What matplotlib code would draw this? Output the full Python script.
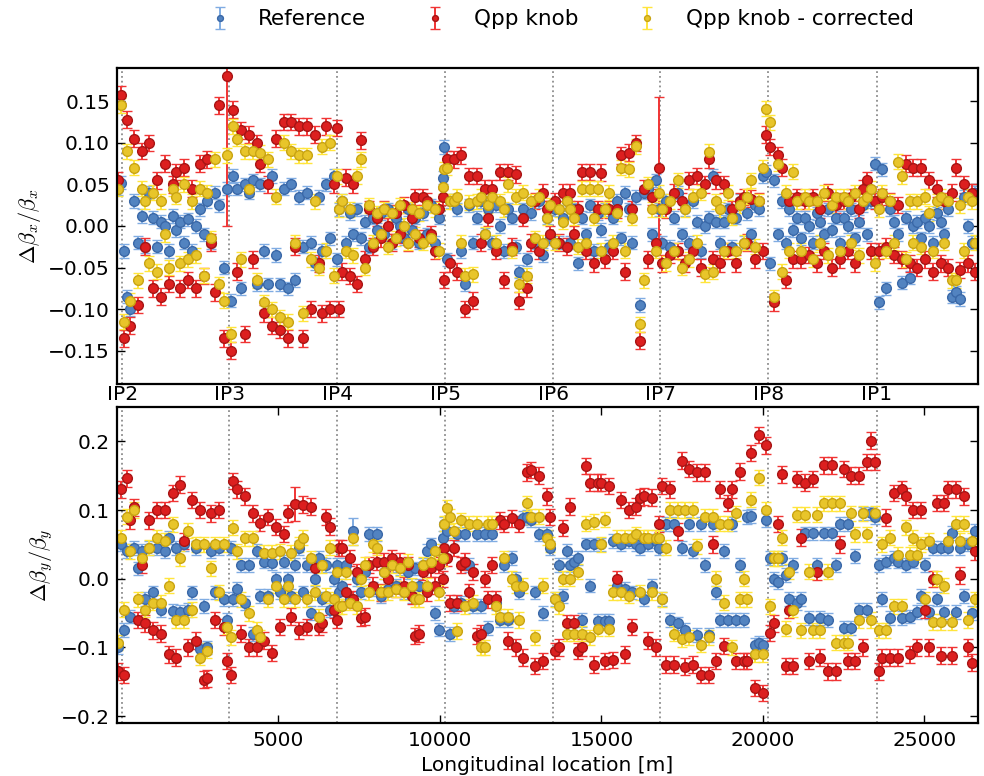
import matplotlib
matplotlib.use("Agg")
import matplotlib.pyplot as plt
import numpy as np

# ---------------- data ----------------
IP_POS = [170, 3480, 6825, 10170, 13500, 16825, 20170, 23520]
IP_NAMES = ["IP2", "IP3", "IP4", "IP5", "IP6", "IP7", "IP8", "IP1"]
BOTTOM_TICKS = [5000, 10000, 15000, 20000, 25000]

S_BPM = [
    40, 120, 210, 300, 400, 520, 640, 760, 880, 1000,
    1120, 1240, 1360, 1480, 1600, 1720, 1840, 1960, 2080, 2200,
    2320, 2440, 2560, 2680, 2800, 2920, 3040, 3160, 3300, 3420,
    3520, 3600, 3720, 3840, 3960, 4080, 4200, 4320, 4440, 4560,
    4680, 4800, 4920, 5040, 5160, 5280, 5400, 5520, 5640, 5760,
    5880, 6000, 6120, 6240, 6360, 6480, 6600, 6720, 6800, 6880,
    6960, 7080, 7200, 7320, 7440, 7560, 7680, 7800, 7920, 8040,
    8160, 8280, 8400, 8520, 8640, 8760, 8880, 9000, 9120, 9240,
    9360, 9480, 9600, 9720, 9840, 9960, 10080, 10140, 10210, 10300,
    10420, 10540, 10660, 10780, 10900, 11020, 11140, 11260, 11380, 11500,
    11620, 11740, 11860, 11980, 12100, 12220, 12340, 12460, 12580, 12700,
    12820, 12940, 13060, 13180, 13300, 13420, 13560, 13680, 13800, 13920,
    14040, 14160, 14280, 14400, 14520, 14640, 14760, 14880, 15000, 15120,
    15240, 15360, 15480, 15600, 15720, 15840, 15960, 16080, 16200, 16320,
    16440, 16560, 16680, 16780, 16880, 17000, 17120, 17240, 17360, 17480,
    17600, 17720, 17840, 17960, 18080, 18200, 18320, 18440, 18560, 18680,
    18800, 18920, 19040, 19160, 19280, 19400, 19520, 19640, 19760, 19880,
    20000, 20100, 20220, 20340, 20460, 20580, 20700, 20820, 20940, 21060,
    21180, 21300, 21420, 21540, 21660, 21780, 21900, 22020, 22140, 22260,
    22380, 22500, 22620, 22740, 22860, 22980, 23100, 23220, 23340, 23460,
    23580, 23700, 23820, 23940, 24060, 24180, 24300, 24420, 24540, 24660,
    24780, 24900, 25020, 25140, 25260, 25380, 25500, 25620, 25740, 25860,
    25980, 26100, 26220, 26340, 26460, 26580,
]

# horizontal beta-beating
BBX_REF = [
    0.045, 0.052, -0.03, -0.085, -0.1, 0.03, -0.02, 0.012, -0.025, 0.04,
    0.01, -0.025, 0.005, 0.0, -0.03, 0.012, -0.005, 0.005, -0.02, 0.008,
    -0.03, 0.0, 0.02, -0.01, 0.03, -0.02, 0.04, 0.025, -0.05, 0.045,
    -0.09, 0.06, 0.045, -0.075, 0.05, 0.04, 0.055, -0.07, 0.05, -0.03,
    -0.07, 0.06, -0.035, -0.07, 0.045, -0.075, 0.05, -0.065, 0.035, -0.025,
    0.04, -0.02, -0.045, 0.035, -0.03, 0.05, -0.015, 0.06, -0.04, 0.02,
    0.03, -0.02, 0.015, -0.01, 0.02, -0.015, 0.005, -0.025, 0.01, -0.005,
    0.015, -0.01, 0.02, -0.02, 0.01, 0.0, -0.015, 0.02, -0.005, 0.01,
    -0.02, 0.015, -0.01, 0.025, -0.02, 0.01, 0.058, 0.095, -0.04, 0.03,
    0.03, 0.02, -0.03, -0.07, 0.025, -0.02, 0.01, 0.03, -0.01, 0.02,
    -0.02, 0.025, 0.0, -0.03, 0.02, 0.01, -0.025, -0.055, 0.02, -0.04,
    0.015, -0.02, 0.03, -0.035, 0.01, -0.015, 0.02, -0.02, 0.01, 0.03,
    -0.02, 0.02, -0.045, 0.01, -0.01, 0.025, -0.03, 0.015, -0.005, 0.02,
    -0.025, 0.01, 0.03, -0.015, 0.04, 0.02, -0.02, 0.035, -0.095, 0.04,
    0.045, -0.01, 0.055, 0.02, -0.02, 0.03, -0.025, 0.01, 0.04, -0.01,
    0.02, -0.02, 0.03, 0.005, -0.03, 0.0, 0.01, 0.06, 0.005, -0.02,
    0.005, 0.02, -0.025, 0.01, 0.03, -0.02, 0.015, -0.01, 0.025, 0.02,
    0.06, 0.065, -0.045, 0.055, -0.01, 0.03, -0.02, 0.02, -0.005, 0.01,
    -0.015, 0.01, 0.0, -0.02, 0.015, 0.005, -0.01, 0.02, -0.005, 0.01,
    -0.02, 0.01, 0.0, 0.02, -0.015, 0.005, 0.025, -0.01, 0.03, 0.075,
    -0.092, 0.068, -0.075, 0.02, 0.005, -0.01, -0.068, 0.01, -0.062, 0.0,
    0.005, -0.015, 0.01, 0.0, -0.02, 0.015, 0.005, -0.01, 0.02, -0.085,
    -0.08, -0.088, 0.035, 0.0, -0.02, 0.04,
]
BBX_QPP = [
    0.055, 0.158, -0.135, 0.128, -0.12, 0.105, -0.095, 0.09, -0.025, 0.1,
    -0.075, 0.055, -0.085, 0.075, -0.07, 0.05, 0.065, -0.075, 0.07, -0.065,
    0.045, -0.075, 0.075, -0.06, 0.08, -0.02, -0.08, 0.145, -0.135, 0.18,
    -0.15, 0.14, -0.055, 0.115, -0.13, 0.11, -0.04, 0.1, 0.075, -0.105,
    0.05, -0.12, 0.105, -0.125, 0.125, -0.135, 0.125, -0.025, 0.12, -0.135,
    0.12, -0.1, 0.11, -0.045, -0.105, 0.12, -0.1, 0.05, 0.118, -0.1,
    -0.055, 0.058, -0.06, 0.05, -0.07, 0.103, -0.04, 0.02, -0.025, 0.01,
    -0.015, 0.02, 0.0, -0.02, 0.015, -0.01, 0.025, -0.02, 0.01, 0.035,
    -0.015, 0.035, 0.03, -0.01, -0.03, 0.02, 0.035, -0.065, 0.08, -0.045,
    0.08, -0.055, 0.085, -0.1, 0.06, -0.09, 0.06, -0.02, 0.045, 0.01,
    0.045, -0.03, 0.065, -0.065, 0.065, -0.025, 0.062, -0.09, 0.01, -0.075,
    -0.02, 0.03, -0.03, 0.04, 0.02, -0.01, 0.03, -0.02, 0.04, -0.025,
    0.04, -0.01, 0.02, 0.065, -0.03, 0.065, -0.045, 0.02, 0.064, -0.04,
    0.02, -0.03, 0.02, 0.085, -0.055, 0.088, 0.02, 0.1, -0.138, 0.045,
    -0.04, 0.035, -0.02, 0.07, -0.045, 0.02, -0.035, 0.04, -0.03, 0.03,
    -0.045, 0.055, -0.03, 0.06, -0.05, 0.05, 0.08, -0.04, 0.055, -0.045,
    0.05, -0.03, 0.02, -0.045, 0.03, 0.035, -0.02, 0.033, -0.04, 0.03,
    -0.03, 0.11, 0.095, -0.092, 0.085, 0.07, -0.065, 0.03, -0.04, 0.035,
    -0.04, 0.03, -0.035, 0.035, -0.045, 0.02, -0.03, 0.04, -0.05, 0.025,
    -0.04, 0.03, -0.03, 0.035, -0.045, 0.02, 0.045, 0.055, -0.03, 0.03,
    -0.03, 0.035, -0.025, 0.03, -0.035, 0.025, -0.04, 0.075, -0.045, 0.07,
    -0.05, 0.07, -0.04, 0.055, -0.055, 0.045, -0.045, 0.03, -0.05, 0.04,
    0.07, -0.053, 0.05, -0.045, 0.04, -0.055,
]
BBX_COR = [
    0.045, 0.145, -0.115, 0.09, -0.09, 0.07, -0.065, 0.045, 0.03, -0.045,
    0.04, -0.055, 0.03, -0.01, -0.05, 0.045, 0.035, -0.045, 0.05, -0.04,
    0.03, -0.035, 0.045, -0.06, 0.04, -0.015, 0.08, -0.07, -0.09, 0.085,
    -0.13, 0.12, 0.105, -0.04, 0.09, 0.045, 0.09, -0.065, 0.088, -0.092,
    0.08, -0.1, 0.035, -0.11, 0.1, -0.115, 0.09, -0.02, 0.085, -0.105,
    0.085, -0.04, 0.03, -0.05, 0.095, -0.03, 0.1, -0.06, 0.06, 0.02,
    0.03, -0.03, 0.02, -0.035, 0.06, 0.08, -0.05, 0.025, -0.02, 0.015,
    -0.01, 0.02, -0.025, 0.015, -0.015, 0.025, 0.0, -0.02, 0.02, -0.01,
    0.015, -0.02, 0.025, -0.015, 0.02, -0.03, 0.047, 0.068, 0.07, 0.03,
    0.03, 0.035, -0.02, -0.06, 0.028, -0.058, 0.03, 0.035, -0.01, 0.025,
    0.035, -0.02, 0.03, 0.02, 0.05, -0.03, 0.035, -0.07, 0.04, -0.06,
    0.03, -0.015, 0.035, -0.02, 0.01, 0.025, -0.02, 0.02, 0.005, 0.03,
    0.02, 0.01, -0.025, 0.045, -0.02, 0.045, 0.01, 0.045, -0.03, 0.02,
    0.04, -0.02, 0.015, 0.07, -0.03, 0.068, 0.01, 0.096, -0.118, -0.065,
    0.05, 0.02, -0.03, 0.04, 0.02, -0.045, 0.03, -0.03, 0.055, -0.05,
    0.02, -0.04, 0.035, -0.02, 0.04, -0.058, 0.089, -0.055, 0.03, 0.02,
    -0.03, 0.04, 0.01, -0.03, 0.025, -0.02, 0.035, 0.055, -0.025, 0.03,
    0.07, 0.141, 0.125, -0.086, 0.075, -0.055, 0.04, -0.03, 0.065, 0.03,
    -0.03, 0.035, 0.03, -0.04, 0.03, -0.02, 0.04, -0.035, 0.025, 0.035,
    -0.03, 0.035, 0.03, -0.02, 0.04, -0.035, 0.03, 0.035, 0.045, -0.045,
    0.02, 0.04, -0.03, 0.03, -0.02, 0.077, 0.06, -0.04, 0.03, -0.02,
    0.03, -0.025, 0.035, 0.015, -0.03, 0.03, 0.035, -0.02, 0.03, -0.065,
    -0.065, 0.025, -0.03, 0.035, 0.03, -0.02,
]

# vertical beta-beating
BBY_REF = [
    -0.1, 0.05, -0.075, 0.04, -0.055, 0.045, 0.015, 0.04, -0.03, 0.045,
    -0.02, 0.045, -0.045, 0.04, 0.06, -0.047, 0.045, -0.048, 0.05, -0.045,
    -0.02, 0.045, -0.103, -0.04, -0.1, 0.04, -0.02, 0.045, -0.03, -0.06,
    0.045, -0.03, -0.015, 0.02, -0.035, 0.02, -0.08, 0.04, -0.025, 0.025,
    -0.025, 0.023, 0.0, -0.02, 0.025, 0.0, -0.025, 0.02, 0.045, -0.02,
    0.02, -0.05, 0.0, 0.03, -0.03, 0.02, -0.045, 0.0, 0.02, -0.02,
    -0.01, 0.02, -0.03, 0.069, 0.0, -0.02, 0.01, 0.065, -0.015, 0.065,
    -0.025, 0.01, -0.015, 0.02, -0.01, 0.015, -0.02, 0.01, -0.025, 0.015,
    -0.01, 0.02, 0.04, 0.05, -0.05, -0.074, 0.06, 0.08, 0.07, -0.08,
    -0.04, 0.065, -0.035, 0.065, 0.02, -0.04, 0.065, -0.04, 0.065, -0.072,
    0.065, -0.035, -0.06, 0.02, -0.06, 0.03, 0.0, -0.02, 0.088, 0.09,
    0.085, -0.02, 0.065, -0.05, 0.065, 0.045, -0.03, 0.02, -0.025, 0.04,
    0.02, 0.025, 0.03, -0.06, 0.05, -0.01, 0.05, -0.062, 0.05, -0.062,
    -0.062, 0.055, -0.01, 0.05, -0.015, 0.055, -0.02, 0.05, 0.045, -0.03,
    0.05, -0.01, 0.055, 0.045, -0.03, 0.08, -0.06, 0.08, -0.065, 0.045,
    -0.074, 0.08, 0.04, -0.082, 0.08, 0.02, -0.082, 0.08, -0.02, -0.06,
    0.04, -0.06, 0.08, -0.06, 0.02, -0.06, 0.09, 0.091, -0.096, -0.094,
    -0.096, 0.085, 0.03, 0.0, -0.005, 0.03, 0.005, -0.03, 0.02, -0.035,
    -0.03, 0.066, -0.057, 0.066, 0.02, -0.057, 0.066, -0.06, 0.066, 0.02,
    0.08, -0.072, 0.08, -0.072, 0.033, -0.045, 0.095, -0.045, 0.095, 0.09,
    0.02, -0.03, 0.025, -0.057, 0.03, 0.025, -0.057, 0.02, -0.055, 0.025,
    -0.048, -0.025, 0.02, -0.048, 0.045, -0.03, 0.045, -0.048, 0.045, 0.067,
    -0.048, 0.045, -0.025, 0.05, -0.05, 0.07,
]
BBY_QPP = [
    -0.135, 0.13, -0.14, 0.146, 0.085, 0.104, -0.06, 0.02, -0.065, 0.085,
    -0.075, 0.1, -0.08, 0.1, -0.11, 0.125, -0.115, 0.137, 0.055, -0.1,
    0.115, -0.09, 0.1, -0.147, -0.145, 0.095, -0.06, 0.1, -0.07, -0.12,
    -0.14, 0.142, 0.13, -0.08, 0.12, -0.1, 0.095, -0.1, 0.081, -0.09,
    0.09, -0.108, 0.075, -0.07, 0.065, 0.095, -0.055, 0.109, -0.075, 0.108,
    -0.07, 0.105, 0.015, -0.07, -0.065, 0.09, 0.076, -0.045, -0.06, 0.045,
    0.045, -0.02, 0.03, -0.03, 0.01, -0.057, -0.055, 0.02, -0.01, 0.025,
    -0.02, 0.025, 0.0, 0.03, -0.015, 0.025, -0.01, 0.02, -0.025, -0.083,
    -0.08, 0.01, -0.02, 0.015, -0.01, 0.02, 0.0, 0.045, 0.03, -0.035,
    0.045, -0.035, 0.02, 0.025, -0.02, 0.01, -0.083, -0.08, 0.0, -0.03,
    0.02, -0.03, 0.085, 0.08, -0.09, 0.088, -0.1, 0.08, -0.115, 0.155,
    0.158, -0.127, 0.15, -0.12, 0.12, 0.09, -0.105, -0.1, 0.074, -0.065,
    0.105, -0.065, -0.105, -0.1, 0.164, 0.14, -0.125, 0.14, 0.14, -0.12,
    0.135, -0.118, 0.0, 0.115, -0.11, 0.1, -0.07, 0.105, 0.118, 0.12,
    -0.09, 0.118, -0.1, 0.08, 0.135, -0.125, 0.13, -0.125, 0.069, 0.172,
    -0.128, 0.16, -0.125, 0.155, -0.14, 0.155, -0.14, 0.05, -0.12, 0.13,
    -0.098, 0.11, 0.13, -0.12, 0.156, -0.12, -0.12, 0.183, -0.159, 0.209,
    -0.166, 0.194, -0.079, -0.065, 0.08, 0.152, -0.127, -0.045, -0.127, 0.145,
    0.06, 0.14, -0.12, 0.145, 0.01, -0.115, 0.165, -0.135, 0.165, -0.135,
    0.05, 0.16, -0.12, 0.15, -0.12, 0.15, -0.1, 0.17, 0.201, 0.17,
    -0.135, -0.115, 0.089, -0.115, 0.125, -0.115, 0.13, 0.12, -0.11, 0.1,
    -0.1, 0.1, -0.045, -0.1, 0.0, 0.11, -0.112, 0.11, 0.13, -0.112,
    0.13, 0.005, 0.12, -0.1, -0.122, 0.04,
]
BBY_COR = [
    -0.093, 0.06, -0.045, 0.09, 0.04, 0.1, -0.03, 0.03, -0.045, 0.045,
    -0.035, 0.06, -0.035, 0.055, -0.01, 0.079, -0.06, 0.03, -0.06, 0.07,
    -0.045, 0.05, -0.115, 0.05, -0.105, 0.015, 0.05, -0.02, 0.05, -0.07,
    -0.085, 0.074, 0.04, -0.03, 0.059, -0.05, 0.059, -0.074, -0.085, 0.038,
    -0.03, 0.038, -0.01, 0.04, -0.03, -0.01, 0.038, -0.03, 0.05, 0.06,
    -0.03, 0.03, -0.02, -0.055, 0.02, -0.025, 0.045, -0.03, 0.01, -0.04,
    -0.04, 0.01, -0.035, 0.06, -0.04, 0.0, 0.02, -0.02, 0.05, 0.045,
    -0.02, 0.01, -0.02, 0.02, -0.015, 0.015, -0.02, 0.025, -0.01, -0.03,
    -0.03, 0.02, -0.01, 0.025, 0.04, -0.02, 0.03, 0.08, 0.103, 0.09,
    0.07, -0.076, 0.085, -0.04, 0.08, -0.035, 0.08, -0.1, -0.1, 0.08,
    0.08, -0.04, -0.055, 0.03, -0.055, 0.0, -0.01, -0.06, -0.01, 0.11,
    0.09, -0.085, 0.09, -0.01, 0.06, 0.05, -0.03, -0.04, 0.0, -0.08,
    0.0, -0.08, 0.01, -0.08, 0.08, -0.085, 0.083, -0.073, 0.05, 0.086,
    -0.073, -0.02, 0.06, -0.02, 0.06, -0.025, 0.06, 0.065, -0.02, 0.06,
    0.06, -0.02, 0.06, 0.06, -0.03, 0.045, 0.1, -0.08, 0.1, -0.088,
    0.1, -0.085, 0.1, 0.047, -0.096, 0.09, -0.085, 0.09, 0.0, 0.08,
    -0.035, 0.08, -0.1, 0.095, -0.03, 0.0, -0.03, 0.115, -0.11, 0.147,
    -0.11, 0.1, -0.04, 0.03, 0.03, 0.06, -0.073, 0.01, -0.045, 0.093,
    -0.075, 0.093, 0.01, -0.075, 0.093, -0.075, 0.11, 0.01, 0.11, -0.093,
    0.11, -0.093, -0.093, 0.095, 0.065, -0.06, 0.095, 0.065, -0.06, 0.095,
    -0.075, 0.05, -0.075, 0.06, -0.04, 0.035, -0.04, 0.075, 0.035, 0.06,
    0.035, 0.05, -0.03, 0.055, -0.063, 0.0, -0.063, -0.01, 0.055, -0.063,
    0.08, 0.055, 0.08, -0.06, 0.055, -0.03,
]

# typical error bars and the few large ones (position -> error)
ERR_X = {"ref": 0.008, "qpp": 0.010, "cor": 0.009}
ERR_Y = {"ref": 0.010, "qpp": 0.012, "cor": 0.011}
BIG_ERR_X_QPP = {3420: 0.18, 16780: 0.085}
BIG_ERR_Y_QPP = {5520: 0.025}
BIG_ERR_Y_REF = {7320: 0.02}

LABELS = ["Reference", "Qpp knob", "Qpp knob - corrected"]

# ---------------- drawing ----------------
plt.rcParams["font.family"] = ["DejaVu Sans"]
plt.rcParams["mathtext.fontset"] = "cm"
plt.rcParams["axes.unicode_minus"] = True

STY = {
    "ref": dict(mfc="#5283C0", mec="#3A68A8", ecolor="#80ACE2"),
    "qpp": dict(mfc="#DC1F1F", mec="#A81414", ecolor="#F03434"),
    "cor": dict(mfc="#E8C52A", mec="#C9A412", ecolor="#FFE53C"),
}


def make_err(base, big):
    e = np.full(len(S_BPM), base, dtype=float)
    for pos, val in big.items():
        e[S_BPM.index(pos)] = val
    return e


fig = plt.figure(figsize=(9.84, 7.76), dpi=100)
ax1 = fig.add_axes([0.1189, 0.5052, 0.8750, 0.4072])
ax2 = fig.add_axes([0.1189, 0.0683, 0.8750, 0.4072])

top_series = [
    ("ref", BBX_REF, make_err(ERR_X["ref"], {})),
    ("qpp", BBX_QPP, make_err(ERR_X["qpp"], BIG_ERR_X_QPP)),
    ("cor", BBX_COR, make_err(ERR_X["cor"], {})),
]
bot_series = [
    ("ref", BBY_REF, make_err(ERR_Y["ref"], BIG_ERR_Y_REF)),
    ("qpp", BBY_QPP, make_err(ERR_Y["qpp"], BIG_ERR_Y_QPP)),
    ("cor", BBY_COR, make_err(ERR_Y["cor"], {})),
]

for ax, series in ((ax1, top_series), (ax2, bot_series)):
    for p in IP_POS:
        ax.axvline(p, color="#8c8c8c", ls=":", lw=1.3, zorder=0.5)
    for (key, vals, err), lab in zip(series, LABELS):
        ax.errorbar(S_BPM, vals, yerr=err, fmt="o", ms=7.0, mew=1.0,
                    elinewidth=1.4, capsize=3.6, capthick=1.4,
                    label=lab, zorder=2, **STY[key])
    ax.set_xlim(0, 26659)
    for sp in ax.spines.values():
        sp.set_linewidth(1.6)
    ax.tick_params(axis="y", direction="in", left=True, right=True,
                   length=6, width=1, labelsize=14.5, pad=5)

ax1.set_ylim(-0.19, 0.19)
ax1.set_yticks([-0.15, -0.10, -0.05, 0.0, 0.05, 0.10, 0.15])
ax1.set_xticks(IP_POS)
ax1.set_xticklabels(IP_NAMES)
ax1.tick_params(axis="x", direction="in", length=0, labelsize=14.5, pad=1)
ax1.set_ylabel(r"$\Delta\beta_x/\beta_x$", fontsize=16)

ax2.set_ylim(-0.21, 0.25)
ax2.set_yticks([-0.2, -0.1, 0.0, 0.1, 0.2])
ax2.set_xticks(BOTTOM_TICKS)
ax2.tick_params(axis="x", direction="in", top=True, bottom=True,
                length=6, width=1, labelsize=14.5, pad=6)
ax2.set_ylabel(r"$\Delta\beta_y/\beta_y$", fontsize=16)
ax2.set_xlabel("Longitudinal location [m]", fontsize=14.5)

ax1.legend(loc="lower center", bbox_to_anchor=(0.51, 1.095), ncol=3,
           frameon=False, fontsize=15.5, markerscale=0.6, columnspacing=2.2,
           handletextpad=0.8, handlelength=2.0, borderaxespad=0.0)

fig.savefig("out.png", dpi=100, facecolor="white")
